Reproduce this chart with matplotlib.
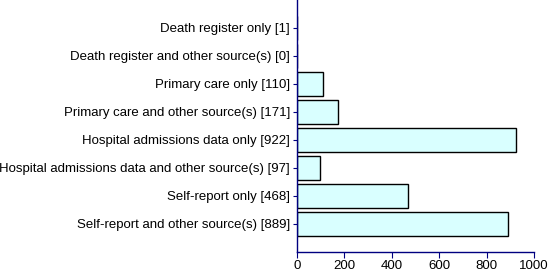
import matplotlib
matplotlib.use("Agg")
import matplotlib.pyplot as plt

categories = [
    "Death register only [1]",
    "Death register and other source(s) [0]",
    "Primary care only [110]",
    "Primary care and other source(s) [171]",
    "Hospital admissions data only [922]",
    "Hospital admissions data and other source(s) [97]",
    "Self-report only [468]",
    "Self-report and other source(s) [889]",
]
counts = [1, 0, 110, 171, 922, 97, 468, 889]
x_ticks = [0, 200, 400, 600, 800, 1000]

plt.rcParams["font.family"] = ["Liberation Sans", "DejaVu Sans"]
navy = "#000080"

fig = plt.figure(figsize=(5.5, 2.76), dpi=100)
ax = fig.add_axes([0.540, 0.087, 0.431, 0.913])

pos = list(range(len(categories)))
ax.barh(pos, counts, height=0.88, color="#D9FFFF", edgecolor="black", linewidth=1.0)

ax.set_ylim(8.0, -1.0)
ax.set_xlim(0, 1000)
ax.set_yticks(pos)
ax.set_yticklabels(categories, fontsize=9.5)
ax.set_xticks(x_ticks)
ax.set_xticklabels([str(v) for v in x_ticks], fontsize=9.5)

for side in ["top", "right"]:
    ax.spines[side].set_visible(False)
for side in ["left", "bottom"]:
    ax.spines[side].set_color(navy)
    ax.spines[side].set_linewidth(1.0)

ax.tick_params(axis="y", length=3, width=0.8, color=navy, pad=2)
ax.tick_params(axis="x", length=4, width=0.8, color=navy, pad=2)

fig.savefig("out.png", dpi=100)
